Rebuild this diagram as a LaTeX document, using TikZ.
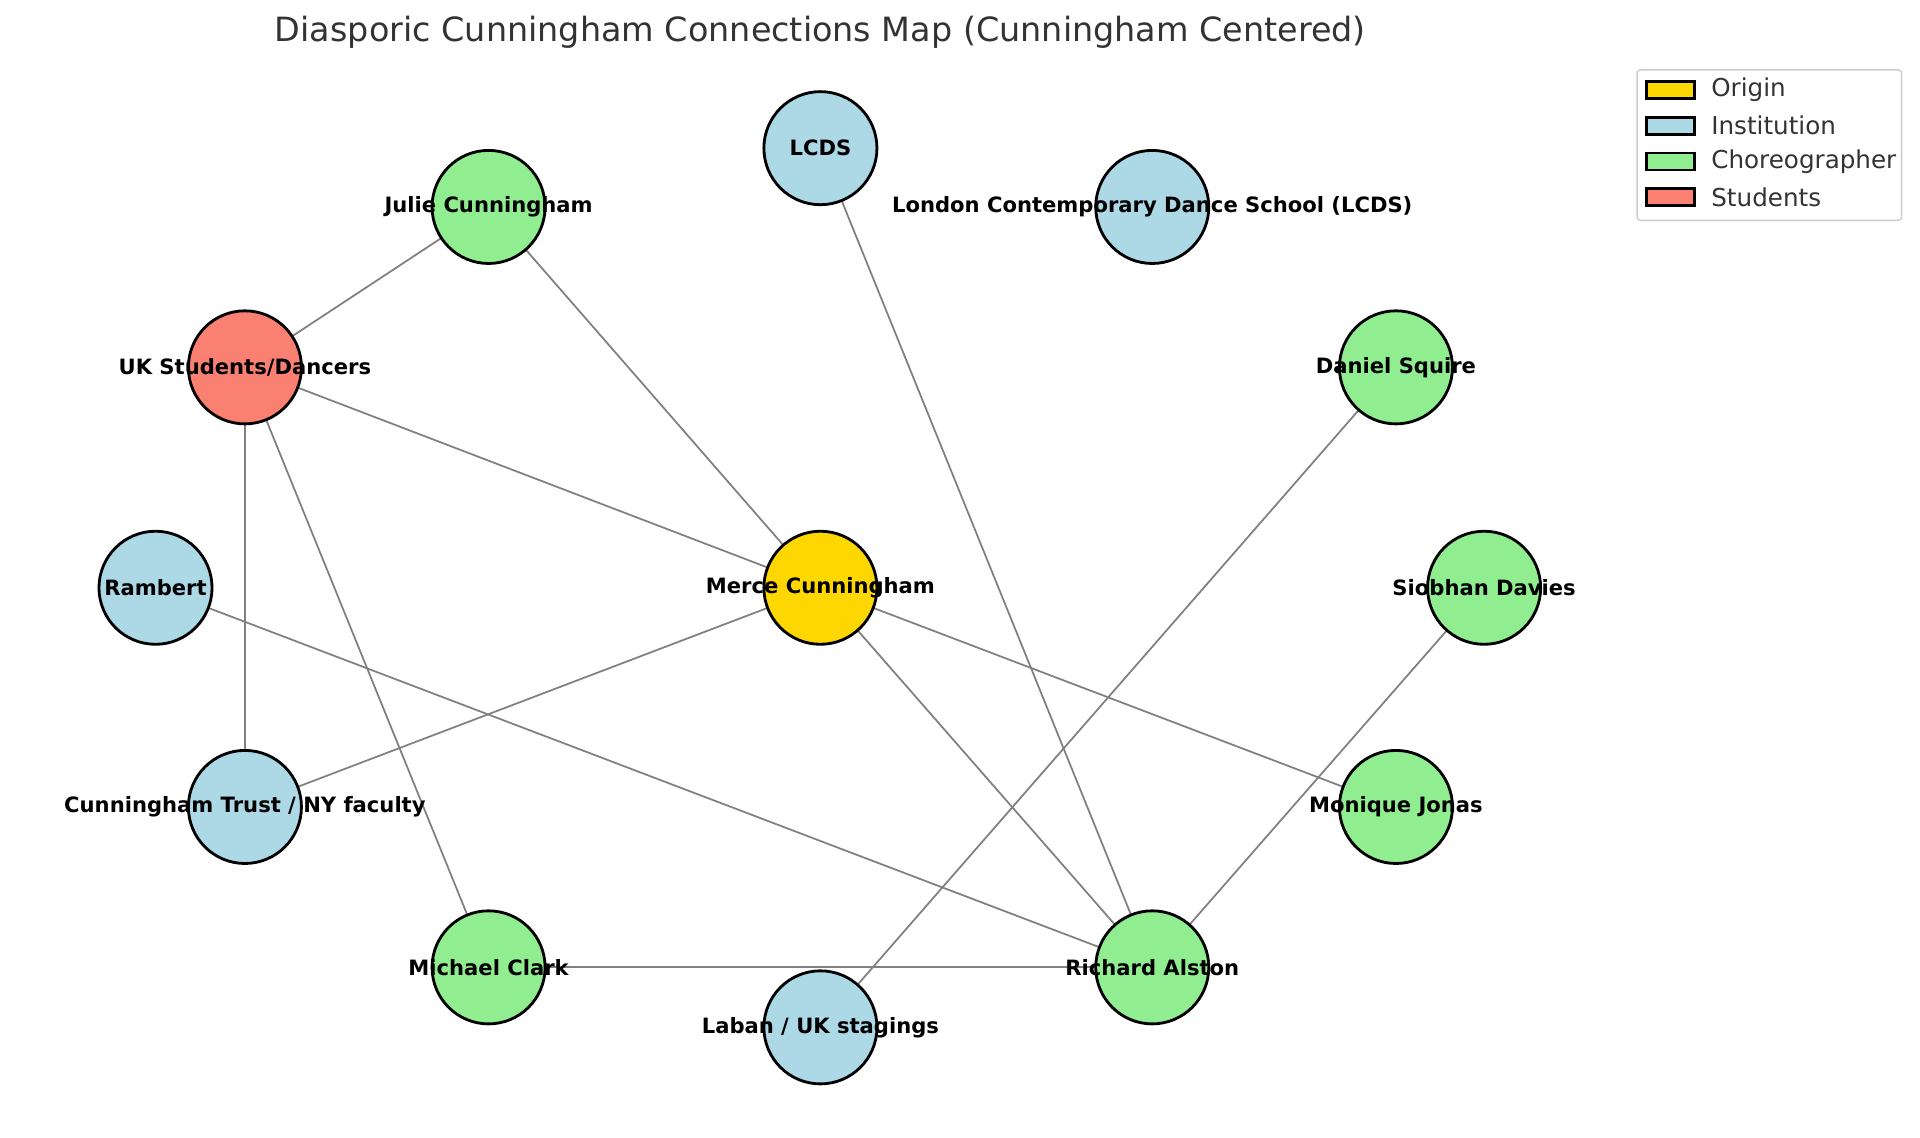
\documentclass[tikz,border=0pt]{standalone}
\usepackage{fontspec}
\setmainfont{DejaVu Sans}
\usetikzlibrary{positioning,backgrounds}
\definecolor{origin}{RGB}{255,215,0}
\definecolor{institution}{RGB}{173,216,230}
\definecolor{choreo}{RGB}{144,238,144}
\definecolor{students}{RGB}{250,128,114}
\definecolor{edgegray}{RGB}{128,128,128}
\definecolor{titlegray}{RGB}{51,51,51}
\tikzset{
  person/.style={circle, draw=black, thick, minimum size=1.13cm, inner sep=0pt},
  lbl/.style={font=\fontsize{6}{7}\selectfont\bfseries},
  link/.style={draw=edgegray, line width=0.5pt},
  swatch/.style={draw=black, thick, minimum width=0.48cm, minimum height=0.17cm, inner sep=0pt}
}
\begin{document}
\begin{tikzpicture}[x=0.012245cm, y=-0.012245cm]
  \useasboundingbox (0,0) rectangle (1568,929);
  % nodes
  \node[person, fill=institution] (lcds) at (670,121) {};
  \node[person, fill=institution] (lcdsfull) at (941,169) {};
  \node[person, fill=choreo] (julie) at (399,169) {};
  \node[person, fill=students] (uk) at (200,300) {};
  \node[person, fill=choreo] (daniel) at (1140,300) {};
  \node[person, fill=institution] (rambert) at (127,480) {};
  \node[person, fill=origin] (merce) at (670,480) {};
  \node[person, fill=choreo] (siobhan) at (1212,480) {};
  \node[person, fill=institution] (trust) at (200,659) {};
  \node[person, fill=choreo] (monique) at (1140,659) {};
  \node[person, fill=choreo] (clark) at (399,790) {};
  \node[person, fill=choreo] (alston) at (941,790) {};
  \node[person, fill=institution] (laban) at (670,839) {};
  % labels
  \node[lbl] at (lcds) {LCDS};
  \node[lbl] at (lcdsfull) {London Contemporary Dance School (LCDS)};
  \node[lbl] at (julie) {Julie Cunningham};
  \node[lbl] at (uk) {UK Students/Dancers};
  \node[lbl] at (daniel) {Daniel Squire};
  \node[lbl] at (rambert) {Rambert};
  \node[lbl] at (merce) {Merce Cunningham};
  \node[lbl] at (siobhan) {Siobhan Davies};
  \node[lbl] at (trust) {Cunningham Trust / NY faculty};
  \node[lbl] at (monique) {Monique Jonas};
  \node[lbl] at (clark) {Michael Clark};
  \node[lbl] at (alston) {Richard Alston};
  \node[lbl] at (laban) {Laban / UK stagings};
  % connections
  \begin{scope}[on background layer]
    \foreach \a/\b in {julie/uk, julie/merce, uk/merce, uk/trust, uk/clark,
        lcds/alston, daniel/laban, rambert/alston, merce/trust, merce/monique,
        merce/alston, siobhan/alston, clark/alston}
      \draw[link] (\a.center) -- (\b.center);
  \end{scope}
  % title
  \node[text=titlegray, font=\fontsize{9.5}{11}\selectfont] (title) at (670,26)
    {Diasporic Cunningham Connections Map (Cunningham Centered)};
  % legend
  \draw[draw=black!20, fill=white, rounded corners=1pt] (1337,57) rectangle (1553,180);
  \foreach \c/\t [count=\i] in {origin/Origin, institution/Institution,
      choreo/Choreographer, students/Students} {
    \node[swatch, fill=\c] (sw\i) at (1364,44+29.3*\i) {};
    \node[right=0.15cm of sw\i, text=titlegray, inner sep=0pt,
      font=\fontsize{7}{8}\selectfont] {\t};
  }
\end{tikzpicture}
\end{document}
